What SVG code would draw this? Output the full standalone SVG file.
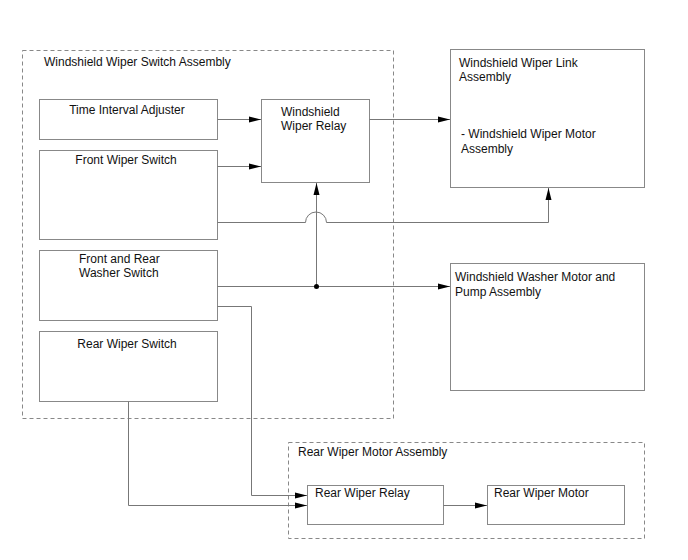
<svg xmlns="http://www.w3.org/2000/svg" width="688" height="560" viewBox="0 0 688 560">
<defs>
<marker id="ah" markerWidth="12" markerHeight="8" refX="12" refY="4" orient="auto" markerUnits="userSpaceOnUse">
<path d="M0,1 L12,4 L0,7 Z" fill="#000"/>
</marker>
<style>
.box{fill:#fff;stroke:#888;stroke-width:1}
.grp{fill:none;stroke:#888;stroke-width:1;stroke-dasharray:4,3}
.ln{fill:none;stroke:#777;stroke-width:1}
text{font-family:"Liberation Sans",Arial,sans-serif;font-size:12px;fill:#111}
</style>
</defs>
<rect width="688" height="560" fill="#fff"/>
<g id="switch-assembly">
<rect class="grp" x="22.5" y="50.5" width="371" height="368"/>
<text x="44" y="66">Windshield Wiper Switch Assembly</text>
</g>
<g id="rear-motor-assembly">
<rect class="grp" x="288.5" y="442.5" width="356" height="96"/>
<text x="298" y="456">Rear Wiper Motor Assembly</text>
</g>
<g id="time-interval">
<rect class="box" x="39.5" y="99.5" width="178" height="40"/>
<text x="127" y="114" text-anchor="middle">Time Interval Adjuster</text>
</g>
<g id="front-wiper-switch">
<rect class="box" x="39.5" y="150.5" width="178" height="89"/>
<text x="126" y="164" text-anchor="middle">Front Wiper Switch</text>
</g>
<g id="washer-switch">
<rect class="box" x="39.5" y="250.5" width="178" height="70"/>
<text x="79" y="263">Front and Rear</text>
<text x="79" y="277">Washer Switch</text>
</g>
<g id="rear-wiper-switch">
<rect class="box" x="39.5" y="331.5" width="178" height="70"/>
<text x="127" y="348" text-anchor="middle">Rear Wiper Switch</text>
</g>
<g id="wiper-relay">
<rect class="box" x="261.5" y="99.5" width="108" height="83"/>
<text x="281" y="116">Windshield</text>
<text x="281" y="130">Wiper Relay</text>
</g>
<g id="link-assembly">
<rect class="box" x="450.5" y="49.5" width="194" height="138"/>
<text x="459" y="67">Windshield Wiper Link</text>
<text x="459" y="81">Assembly</text>
<text x="461" y="138">- Windshield Wiper Motor</text>
<text x="461" y="153">Assembly</text>
</g>
<g id="washer-motor">
<rect class="box" x="450.5" y="263.5" width="194" height="127"/>
<text x="455" y="281">Windshield Washer Motor and</text>
<text x="455" y="296">Pump Assembly</text>
</g>
<g id="rear-relay">
<rect class="box" x="307.5" y="485.5" width="136" height="39"/>
<text x="315" y="497">Rear Wiper Relay</text>
</g>
<g id="rear-motor">
<rect class="box" x="487.5" y="485.5" width="137" height="39"/>
<text x="494" y="497">Rear Wiper Motor</text>
</g>
<g id="connectors">
<path class="ln" d="M217.5,119.5 H261" marker-end="url(#ah)"/>
<path class="ln" d="M217.5,166.5 H261" marker-end="url(#ah)"/>
<path class="ln" d="M369.5,119.5 H450" marker-end="url(#ah)"/>
<path class="ln" d="M217.5,222.5 H305.5 A10.5,10.5 0 0 1 326.5,222.5 H548.5 V188" marker-end="url(#ah)"/>
<path class="ln" d="M316.5,286.5 V183" marker-end="url(#ah)"/>
<path class="ln" d="M217.5,286.5 H450" marker-end="url(#ah)"/>
<circle cx="316.5" cy="286.5" r="2.5" fill="#000"/>
<path class="ln" d="M217.5,306.5 H251.5 V495.5 H307" marker-end="url(#ah)"/>
<path class="ln" d="M128.5,401.5 V505.5 H307" marker-end="url(#ah)"/>
<path class="ln" d="M443.5,505.5 H487" marker-end="url(#ah)"/>
</g>
</svg>
